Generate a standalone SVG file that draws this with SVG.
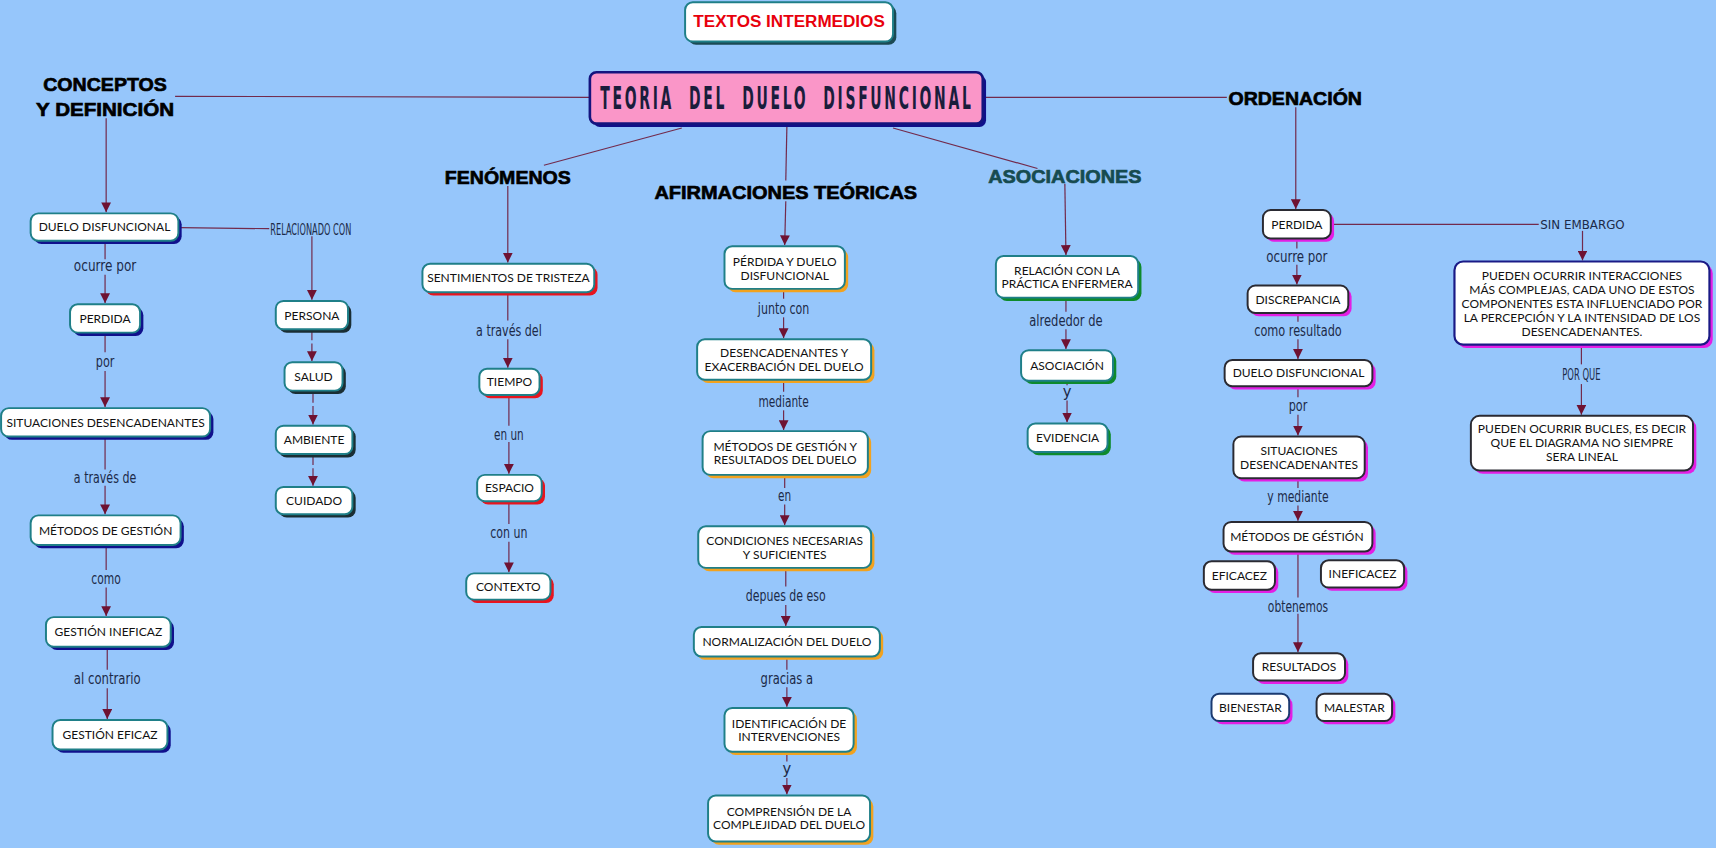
<svg xmlns="http://www.w3.org/2000/svg" width="1716" height="848" viewBox="0 0 1716 848">
<defs>
<marker id="ah" viewBox="0 0 10 10" refX="10" refY="5" markerWidth="9" markerHeight="9" markerUnits="userSpaceOnUse" orient="auto">
<path d="M0,0 L10,5 L0,10 z" fill="#6e1232"/>
</marker>
<style>
.bx{fill:#fff;stroke-width:1.8}
.bt{stroke:#1f7f88}
.bd{stroke:#2a2a32}
.bn{stroke:#1a1a86;stroke-width:2}
.bb{stroke:#1a3a70}
.s1{fill:#10108c}
.s2{fill:#1a2e34}
.s3{fill:#e8141e}
.s4{fill:#f2a21e}
.s5{fill:#0e8a2c}
.s6{fill:#e41ee4}
.s0{fill:#1c4a54}
.nt{font-family:Lato,"Open Sans",sans-serif;font-size:11px;fill:#111;text-anchor:middle}
.lb{font-family:"DejaVu Sans Condensed","DejaVu Sans",sans-serif;font-stretch:condensed;font-size:15px;fill:#1c2a48;text-anchor:middle}
.hd{font-family:"Liberation Sans",Arial,sans-serif;font-weight:bold;font-size:17px;fill:#000;stroke:#000;stroke-width:0.6;text-anchor:middle}
.cn line,.cn path{stroke:#722a4c;stroke-width:1.1;fill:none}
.ar{marker-end:url(#ah)}
</style>
</defs>
<rect width="1716" height="848" fill="#96c6fb"/>
<g transform="scale(1.0944,1.0942)">

<!-- connectors -->
<g id="connectors" class="cn">
<line x1="539" y1="89" x2="160" y2="88"/>
<line x1="623" y1="117" x2="497" y2="151"/>
<line x1="719" y1="116" x2="718" y2="165"/>
<line x1="816" y1="117" x2="948" y2="154"/>
<line x1="899" y1="89" x2="1121" y2="89"/>
<!-- col1 -->
<line class="ar" x1="97" y1="108" x2="97" y2="194"/>
<line x1="96" y1="221" x2="96" y2="237"/><line class="ar" x1="96" y1="251" x2="96" y2="277"/>
<line x1="96" y1="305" x2="96" y2="322"/><line class="ar" x1="96" y1="339" x2="96" y2="372"/>
<line x1="96" y1="400" x2="96" y2="429"/><line class="ar" x1="96" y1="444" x2="96" y2="470"/>
<line x1="97" y1="499" x2="97" y2="521"/><line class="ar" x1="97" y1="537" x2="97" y2="563"/>
<line x1="98" y1="592" x2="98" y2="612"/><line class="ar" x1="98" y1="629" x2="98" y2="657"/>
<line x1="165" y1="208" x2="246" y2="209"/><line class="ar" x1="285" y1="216" x2="285" y2="274"/>
<line x1="285" y1="303" x2="285" y2="311"/><line class="ar" x1="285" y1="314" x2="285" y2="330"/>
<line x1="286" y1="360" x2="286" y2="368"/><line class="ar" x1="286" y1="371" x2="286" y2="388"/>
<line x1="286" y1="416" x2="286" y2="425"/><line class="ar" x1="286" y1="428" x2="286" y2="444"/>
<!-- col3 -->
<line class="ar" x1="464" y1="170" x2="464" y2="240"/>
<line x1="464" y1="268" x2="464" y2="293"/><line class="ar" x1="464" y1="310" x2="464" y2="336"/>
<line x1="465" y1="362" x2="465" y2="389"/><line class="ar" x1="465" y1="404" x2="465" y2="433"/>
<line x1="465" y1="459" x2="465" y2="479"/><line class="ar" x1="465" y1="495" x2="465" y2="523"/>
<!-- col4 -->
<line class="ar" x1="718" y1="184" x2="717" y2="224"/>
<line x1="716" y1="265" x2="716" y2="273"/><line class="ar" x1="716" y1="290" x2="716" y2="309"/>
<line x1="716" y1="348" x2="716" y2="358"/><line class="ar" x1="716" y1="375" x2="716" y2="393"/>
<line x1="717" y1="435" x2="717" y2="446"/><line class="ar" x1="717" y1="461" x2="717" y2="480"/>
<line x1="718" y1="520" x2="718" y2="536"/><line class="ar" x1="718" y1="553" x2="718" y2="572"/>
<line x1="719" y1="601" x2="719" y2="612"/><line class="ar" x1="719" y1="628" x2="719" y2="646"/>
<line x1="719" y1="688" x2="719" y2="696"/><line class="ar" x1="719" y1="711" x2="719" y2="726"/>
<!-- col5 -->
<line class="ar" x1="973" y1="168" x2="974" y2="233"/>
<line x1="974" y1="273" x2="974" y2="285"/><line class="ar" x1="974" y1="301" x2="974" y2="319"/>
<line x1="975" y1="348" x2="975" y2="352"/><line class="ar" x1="975" y1="366" x2="975" y2="386"/>
<!-- col6 -->
<line class="ar" x1="1184" y1="98" x2="1184" y2="191"/>
<line x1="1218" y1="205" x2="1406" y2="205"/><line class="ar" x1="1446" y1="211" x2="1446" y2="238"/>
<line x1="1185" y1="219" x2="1185" y2="227"/><line class="ar" x1="1185" y1="242" x2="1185" y2="260"/>
<line x1="1186" y1="287" x2="1186" y2="294"/><line class="ar" x1="1186" y1="310" x2="1186" y2="328"/>
<line x1="1186" y1="354" x2="1186" y2="363"/><line class="ar" x1="1186" y1="379" x2="1186" y2="398"/>
<line x1="1186" y1="439" x2="1186" y2="446"/><line class="ar" x1="1186" y1="462" x2="1186" y2="476"/>
<line x1="1186" y1="505" x2="1186" y2="546"/><line class="ar" x1="1186" y1="561" x2="1186" y2="596"/>
<line x1="1445" y1="317" x2="1445" y2="333"/><line class="ar" x1="1445" y1="351" x2="1445" y2="379"/>
</g>

<!-- connector labels -->
<g id="labels">
<text class="lb" x="96" y="248" textLength="57" lengthAdjust="spacingAndGlyphs">ocurre por</text>
<text class="lb" x="96" y="335" textLength="17" lengthAdjust="spacingAndGlyphs">por</text>
<text class="lb" x="96" y="441" textLength="57" lengthAdjust="spacingAndGlyphs">a través de</text>
<text class="lb" x="97" y="534" textLength="27" lengthAdjust="spacingAndGlyphs">como</text>
<text class="lb" x="98" y="625" textLength="61" lengthAdjust="spacingAndGlyphs">al contrario</text>
<text class="lb" x="284" y="215" textLength="74" lengthAdjust="spacingAndGlyphs" style="font-size:14px">RELACIONADO CON</text>
<text class="lb" x="465" y="307" textLength="60" lengthAdjust="spacingAndGlyphs">a través del</text>
<text class="lb" x="465" y="402" textLength="27" lengthAdjust="spacingAndGlyphs">en un</text>
<text class="lb" x="465" y="492" textLength="34" lengthAdjust="spacingAndGlyphs">con un</text>
<text class="lb" x="716" y="287" textLength="47" lengthAdjust="spacingAndGlyphs">junto con</text>
<text class="lb" x="716" y="372" textLength="46" lengthAdjust="spacingAndGlyphs">mediante</text>
<text class="lb" x="717" y="458" textLength="12" lengthAdjust="spacingAndGlyphs">en</text>
<text class="lb" x="718" y="549" textLength="73" lengthAdjust="spacingAndGlyphs">depues de eso</text>
<text class="lb" x="719" y="625" textLength="48" lengthAdjust="spacingAndGlyphs">gracias a</text>
<text class="lb" x="719" y="707">y</text>
<text class="lb" x="974" y="298" textLength="67" lengthAdjust="spacingAndGlyphs">alrededor de</text>
<text class="lb" x="975" y="363">y</text>
<text class="lb" x="1185" y="239" textLength="56" lengthAdjust="spacingAndGlyphs">ocurre por</text>
<text class="lb" x="1186" y="307" textLength="80" lengthAdjust="spacingAndGlyphs">como resultado</text>
<text class="lb" x="1186" y="376" textLength="17" lengthAdjust="spacingAndGlyphs">por</text>
<text class="lb" x="1186" y="459" textLength="56" lengthAdjust="spacingAndGlyphs">y mediante</text>
<text class="lb" x="1186" y="559" textLength="55" lengthAdjust="spacingAndGlyphs">obtenemos</text>
<text x="1446" y="209.5" textLength="77" lengthAdjust="spacingAndGlyphs" style="font-family:'DejaVu Sans',sans-serif;font-size:11.5px;fill:#1c2a48;text-anchor:middle">SIN EMBARGO</text>
<text class="lb" x="1445" y="347" textLength="35" lengthAdjust="spacingAndGlyphs" style="font-size:14px">POR QUE</text>
</g>

<!-- headings -->
<g id="h-conceptos"><text class="hd" x="96" y="83" textLength="113" lengthAdjust="spacingAndGlyphs">CONCEPTOS</text><text class="hd" x="96" y="106" textLength="126" lengthAdjust="spacingAndGlyphs">Y DEFINICIÓN</text></g>
<g id="h-fenomenos"><text class="hd" x="464" y="168" textLength="115" lengthAdjust="spacingAndGlyphs">FENÓMENOS</text></g>
<g id="h-afirmaciones"><text class="hd" x="718" y="182" textLength="240" lengthAdjust="spacingAndGlyphs">AFIRMACIONES TEÓRICAS</text></g>
<g id="h-asociaciones"><text class="hd" x="973" y="167" textLength="140" lengthAdjust="spacingAndGlyphs" style="fill:#164b50;stroke:#164b50">ASOCIACIONES</text></g>
<g id="h-ordenacion"><text class="hd" x="1183.5" y="96" textLength="122" lengthAdjust="spacingAndGlyphs">ORDENACIÓN</text></g>

<!-- title nodes -->
<g id="n-textos"><rect class="s0" x="629" y="5" width="190" height="36" rx="7"/><rect class="bx bt" x="626" y="2" width="190" height="36" rx="7"/>
<text x="721" y="24.5" textLength="175" lengthAdjust="spacingAndGlyphs" style="font-family:'Liberation Sans',Arial,sans-serif;font-weight:bold;font-size:15.5px;fill:#e8000c;text-anchor:middle">TEXTOS INTERMEDIOS</text></g>
<g id="n-main"><rect x="542" y="69" width="359" height="47" rx="6" fill="#10108a"/><rect x="539" y="66" width="359" height="47" rx="6" fill="#fa96c8" stroke="#14147e" stroke-width="2.4"/>
<text transform="translate(719,100) scale(0.56,1)" x="0" y="0" textLength="609" lengthAdjust="spacingAndGlyphs" style="font-family:'DejaVu Sans Condensed','DejaVu Sans',sans-serif;font-stretch:condensed;font-weight:bold;font-size:29px;letter-spacing:5px;word-spacing:14px;fill:#1a1d3c;text-anchor:middle">TEORIA DEL DUELO DISFUNCIONAL</text></g>

<!-- col1 -->
<g id="n-dd1"><rect class="s1" x="31" y="198" width="135" height="25" rx="7"/><rect class="bx bt" x="28" y="195" width="135" height="25" rx="7"/><text class="nt" x="95.5" y="211.5">DUELO DISFUNCIONAL</text></g>
<g id="n-perdida1"><rect class="s1" x="67" y="281" width="64" height="26" rx="7"/><rect class="bx bt" x="64" y="278" width="64" height="26" rx="7"/><text class="nt" x="96" y="295">PERDIDA</text></g>
<g id="n-sit1"><rect class="s1" x="4" y="376" width="191" height="26" rx="7"/><rect class="bx bt" x="1" y="373" width="191" height="26" rx="7"/><text class="nt" x="96.5" y="390">SITUACIONES DESENCADENANTES</text></g>
<g id="n-met1"><rect class="s1" x="31" y="474" width="137" height="27" rx="7"/><rect class="bx bt" x="28" y="471" width="137" height="27" rx="7"/><text class="nt" x="96.5" y="488.5">MÉTODOS DE GESTIÓN</text></g>
<g id="n-gi"><rect class="s1" x="45" y="567" width="114" height="27" rx="7"/><rect class="bx bt" x="42" y="564" width="114" height="27" rx="7"/><text class="nt" x="99" y="581.5">GESTIÓN INEFICAZ</text></g>
<g id="n-ge"><rect class="s1" x="51" y="661" width="105" height="27" rx="7"/><rect class="bx bt" x="48" y="658" width="105" height="27" rx="7"/><text class="nt" x="100.5" y="675.5">GESTIÓN EFICAZ</text></g>

<!-- col2 -->
<g id="n-persona"><rect class="s2" x="255" y="278" width="66" height="26" rx="7"/><rect class="bx bt" x="252" y="275" width="66" height="26" rx="7"/><text class="nt" x="285" y="292">PERSONA</text></g>
<g id="n-salud"><rect class="s2" x="263" y="334" width="53" height="26" rx="7"/><rect class="bx bt" x="260" y="331" width="53" height="26" rx="7"/><text class="nt" x="286.5" y="348">SALUD</text></g>
<g id="n-ambiente"><rect class="s2" x="255" y="392" width="70" height="26" rx="7"/><rect class="bx bt" x="252" y="389" width="70" height="26" rx="7"/><text class="nt" x="287" y="406">AMBIENTE</text></g>
<g id="n-cuidado"><rect class="s2" x="255" y="448" width="70" height="25" rx="7"/><rect class="bx bt" x="252" y="445" width="70" height="25" rx="7"/><text class="nt" x="287" y="461.5">CUIDADO</text></g>

<!-- col3 -->
<g id="n-sentimientos"><rect class="s3" x="389" y="244" width="157" height="26" rx="7"/><rect class="bx bt" x="386" y="241" width="157" height="26" rx="7"/><text class="nt" x="464.5" y="258">SENTIMIENTOS DE TRISTEZA</text></g>
<g id="n-tiempo"><rect class="s3" x="441" y="340" width="55" height="24" rx="7"/><rect class="bx bt" x="438" y="337" width="55" height="24" rx="7"/><text class="nt" x="465.5" y="353">TIEMPO</text></g>
<g id="n-espacio"><rect class="s3" x="439" y="437" width="59" height="24" rx="7"/><rect class="bx bt" x="436" y="434" width="59" height="24" rx="7"/><text class="nt" x="465.5" y="450">ESPACIO</text></g>
<g id="n-contexto"><rect class="s3" x="429" y="527" width="77" height="24" rx="7"/><rect class="bx bt" x="426" y="524" width="77" height="24" rx="7"/><text class="nt" x="464.5" y="540">CONTEXTO</text></g>

<!-- col4 -->
<g id="n-perdida-duelo"><rect class="s4" x="665" y="228" width="110" height="39" rx="7"/><rect class="bx bt" x="662" y="225" width="110" height="39" rx="7"/><text class="nt" x="717" y="243">PÉRDIDA Y DUELO</text><text class="nt" x="717" y="255.5">DISFUNCIONAL</text></g>
<g id="n-desenc"><rect class="s4" x="640" y="313" width="159" height="37" rx="7"/><rect class="bx bt" x="637" y="310" width="159" height="37" rx="7"/><text class="nt" x="716.5" y="326.5">DESENCADENANTES Y</text><text class="nt" x="716.5" y="339">EXACERBACIÓN DEL DUELO</text></g>
<g id="n-metodos2"><rect class="s4" x="645" y="397" width="151" height="40" rx="7"/><rect class="bx bt" x="642" y="394" width="151" height="40" rx="7"/><text class="nt" x="717.5" y="412">MÉTODOS DE GESTIÓN Y</text><text class="nt" x="717.5" y="424.5">RESULTADOS DEL DUELO</text></g>
<g id="n-condiciones"><rect class="s4" x="641" y="484" width="158" height="38" rx="7"/><rect class="bx bt" x="638" y="481" width="158" height="38" rx="7"/><text class="nt" x="717" y="498">CONDICIONES NECESARIAS</text><text class="nt" x="717" y="510.5">Y SUFICIENTES</text></g>
<g id="n-normalizacion"><rect class="s4" x="637" y="576" width="170" height="27" rx="7"/><rect class="bx bt" x="634" y="573" width="170" height="27" rx="7"/><text class="nt" x="719" y="590.5">NORMALIZACIÓN DEL DUELO</text></g>
<g id="n-identificacion"><rect class="s4" x="665" y="650" width="118" height="40" rx="7"/><rect class="bx bt" x="662" y="647" width="118" height="40" rx="7"/><text class="nt" x="721" y="665">IDENTIFICACIÓN DE</text><text class="nt" x="721" y="677.5">INTERVENCIONES</text></g>
<g id="n-comprension"><rect class="s4" x="650" y="730" width="148" height="42" rx="7"/><rect class="bx bt" x="647" y="727" width="148" height="42" rx="7"/><text class="nt" x="721" y="745.5">COMPRENSIÓN DE LA</text><text class="nt" x="721" y="758">COMPLEJIDAD DEL DUELO</text></g>

<!-- col5 -->
<g id="n-relacion"><rect class="s5" x="913" y="237" width="130" height="38" rx="7"/><rect class="bx bt" x="910" y="234" width="130" height="38" rx="7"/><text class="nt" x="975" y="251">RELACIÓN CON LA</text><text class="nt" x="975" y="263.5">PRÁCTICA ENFERMERA</text></g>
<g id="n-asociacion"><rect class="s5" x="936" y="323" width="84" height="28" rx="7"/><rect class="bx bt" x="933" y="320" width="84" height="28" rx="7"/><text class="nt" x="975" y="338">ASOCIACIÓN</text></g>
<g id="n-evidencia"><rect class="s5" x="942" y="390" width="73" height="26" rx="7"/><rect class="bx bt" x="939" y="387" width="73" height="26" rx="7"/><text class="nt" x="975.5" y="404">EVIDENCIA</text></g>

<!-- col6 -->
<g id="n-perdida2"><rect class="s6" x="1157" y="195" width="62" height="26" rx="7"/><rect class="bx bd" x="1154" y="192" width="62" height="26" rx="7"/><text class="nt" x="1185" y="209">PERDIDA</text></g>
<g id="n-discrepancia"><rect class="s6" x="1143" y="264" width="92" height="25" rx="7"/><rect class="bx bd" x="1140" y="261" width="92" height="25" rx="7"/><text class="nt" x="1186" y="277.5">DISCREPANCIA</text></g>
<g id="n-dd2"><rect class="s6" x="1122" y="332" width="135" height="24" rx="7"/><rect class="bx bd" x="1119" y="329" width="135" height="24" rx="7"/><text class="nt" x="1186.5" y="345">DUELO DISFUNCIONAL</text></g>
<g id="n-sit2"><rect class="s6" x="1130" y="402" width="120" height="38" rx="7"/><rect class="bx bd" x="1127" y="399" width="120" height="38" rx="7"/><text class="nt" x="1187" y="416">SITUACIONES</text><text class="nt" x="1187" y="428.5">DESENCADENANTES</text></g>
<g id="n-met3"><rect class="s6" x="1121" y="480" width="136" height="27" rx="7"/><rect class="bx bd" x="1118" y="477" width="136" height="27" rx="7"/><text class="nt" x="1185" y="494.5">MÉTODOS DE GÉSTIÓN</text></g>
<g id="n-eficacez"><rect class="s6" x="1103" y="516" width="65" height="26" rx="7"/><rect class="bx bd" x="1100" y="513" width="65" height="26" rx="7"/><text class="nt" x="1132.5" y="530">EFICACEZ</text></g>
<g id="n-ineficacez"><rect class="s6" x="1210" y="515" width="76" height="25" rx="7"/><rect class="bx bd" x="1207" y="512" width="76" height="25" rx="7"/><text class="nt" x="1245" y="528.5">INEFICACEZ</text></g>
<g id="n-resultados"><rect class="s6" x="1148" y="600" width="84" height="25" rx="7"/><rect class="bx bd" x="1145" y="597" width="84" height="25" rx="7"/><text class="nt" x="1187" y="613.5">RESULTADOS</text></g>
<g id="n-bienestar"><rect class="s6" x="1110" y="637" width="71" height="25" rx="7"/><rect class="bx bb" x="1107" y="634" width="71" height="25" rx="7"/><text class="nt" x="1142.5" y="650.5">BIENESTAR</text></g>
<g id="n-malestar"><rect class="s6" x="1206" y="637" width="69" height="25" rx="7"/><rect class="bx bd" x="1203" y="634" width="69" height="25" rx="7"/><text class="nt" x="1237.5" y="650.5">MALESTAR</text></g>
<g id="n-interacciones"><rect class="s6" x="1332" y="242" width="233" height="76" rx="8"/><rect class="bx bn" x="1329" y="239" width="233" height="76" rx="8"/>
<text class="nt" x="1445.5" y="255.5">PUEDEN OCURRIR INTERACCIONES</text><text class="nt" x="1445.5" y="268.3">MÁS COMPLEJAS, CADA UNO DE ESTOS</text><text class="nt" x="1445.5" y="281.1">COMPONENTES ESTA INFLUENCIADO POR</text><text class="nt" x="1445.5" y="293.9">LA PERCEPCIÓN Y LA INTENSIDAD DE LOS</text><text class="nt" x="1445.5" y="306.7">DESENCADENANTES.</text></g>
<g id="n-bucles"><rect class="s6" x="1347" y="383" width="203" height="50" rx="8"/><rect class="bx bd" x="1344" y="380" width="203" height="50" rx="8"/>
<text class="nt" x="1445.5" y="396">PUEDEN OCURRIR BUCLES, ES DECIR</text><text class="nt" x="1445.5" y="408.8">QUE EL DIAGRAMA NO SIEMPRE</text><text class="nt" x="1445.5" y="421.6">SERA LINEAL</text></g>
</g>
</svg>
